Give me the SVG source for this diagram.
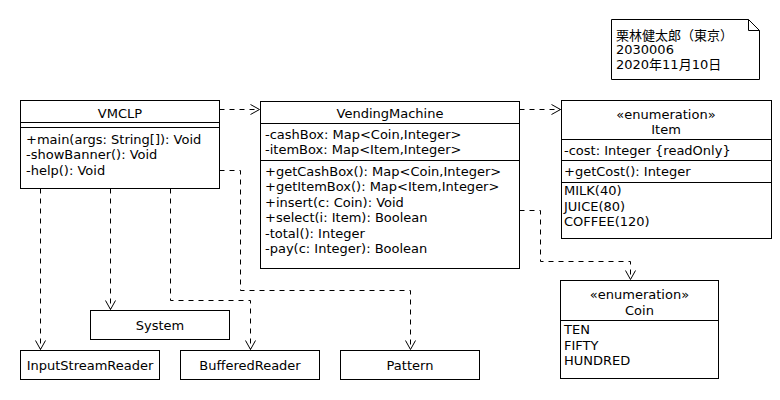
<svg xmlns="http://www.w3.org/2000/svg" width="780" height="400" viewBox="0 0 780 400">
<defs>
<marker id="open" viewBox="0 0 12 12" refX="10" refY="6" markerWidth="12" markerHeight="12" markerUnits="userSpaceOnUse" orient="auto">
<path d="M1,1 L10,6 L1,11" fill="none" stroke="#000" stroke-width="1"/>
</marker>
<style>
text{font-family:"DejaVu Sans","Noto Sans CJK JP",sans-serif;font-size:13px;fill:#000}
.c{text-anchor:middle}
.box{fill:#fff;stroke:#000;stroke-width:1}
.ln{stroke:#000;stroke-width:1}
.dep{fill:none;stroke:#000;stroke-width:1;stroke-dasharray:5,5;marker-end:url(#open)}
</style>
</defs>
<rect width="780" height="400" fill="#fff"/>
<g id="connectors">
<path class="dep" d="M219.5,109.5 H259.5"/>
<path class="dep" d="M519.5,109.5 H560.5"/>
<path class="dep" d="M519.5,210.5 H540.5 V261.5 H630.5 V279.5"/>
<path class="dep" d="M40.5,188.5 V349.5"/>
<path class="dep" d="M110.5,188.5 V309.5"/>
<path class="dep" d="M170.5,188.5 V300.5 H250.5 V349.5"/>
<path class="dep" d="M219.5,170.5 H240.5 V290.5 H410.5 V349.5"/>
</g>
<g id="VMCLP">
<rect class="box" x="20.5" y="100.5" width="199" height="88"/>
<line class="ln" x1="20.5" y1="122.5" x2="219.5" y2="122.5"/>
<line class="ln" x1="20.5" y1="127.5" x2="219.5" y2="127.5"/>
<text class="c" x="120" y="117.5">VMCLP</text>
<text x="26" y="143.5">+main(args: String[]): Void</text>
<text x="26" y="159">-showBanner(): Void</text>
<text x="26" y="174.5">-help(): Void</text>
</g>
<g id="VendingMachine">
<rect class="box" x="260.5" y="101.5" width="259" height="167"/>
<line class="ln" x1="260.5" y1="123.5" x2="519.5" y2="123.5"/>
<line class="ln" x1="260.5" y1="160.5" x2="519.5" y2="160.5"/>
<text class="c" x="390" y="117.5">VendingMachine</text>
<text x="265" y="138.5">-cashBox: Map&lt;Coin,Integer&gt;</text>
<text x="265" y="154">-itemBox: Map&lt;Item,Integer&gt;</text>
<text x="265" y="175.5">+getCashBox(): Map&lt;Coin,Integer&gt;</text>
<text x="265" y="191">+getItemBox(): Map&lt;Item,Integer&gt;</text>
<text x="265" y="206.5">+insert(c: Coin): Void</text>
<text x="265" y="222">+select(i: Item): Boolean</text>
<text x="265" y="237.5">-total(): Integer</text>
<text x="265" y="253">-pay(c: Integer): Boolean</text>
</g>
<g id="Item">
<rect class="box" x="561.5" y="100.5" width="210" height="138"/>
<line class="ln" x1="561.5" y1="139.5" x2="771.5" y2="139.5"/>
<line class="ln" x1="561.5" y1="160.5" x2="771.5" y2="160.5"/>
<line class="ln" x1="561.5" y1="182.5" x2="771.5" y2="182.5"/>
<text class="c" x="666" y="118.5">«enumeration»</text>
<text class="c" x="666" y="134">Item</text>
<text x="564" y="155">-cost: Integer {readOnly}</text>
<text x="564" y="175.5">+getCost(): Integer</text>
<text x="564" y="195">MILK(40)</text>
<text x="564" y="210.5">JUICE(80)</text>
<text x="564" y="226">COFFEE(120)</text>
</g>
<g id="Coin">
<rect class="box" x="560.5" y="280.5" width="158" height="98"/>
<line class="ln" x1="560.5" y1="320.5" x2="718.5" y2="320.5"/>
<text class="c" x="639.5" y="298.5">«enumeration»</text>
<text class="c" x="639.5" y="314.5">Coin</text>
<text x="564" y="333.5">TEN</text>
<text x="564" y="349.5">FIFTY</text>
<text x="564" y="364.5">HUNDRED</text>
</g>
<g id="System">
<rect class="box" x="90.5" y="310.5" width="139" height="29"/>
<text class="c" x="160" y="329.5">System</text>
</g>
<g id="InputStreamReader">
<rect class="box" x="20.5" y="350.5" width="139" height="29"/>
<text class="c" x="90" y="369.5">InputStreamReader</text>
</g>
<g id="BufferedReader">
<rect class="box" x="180.5" y="350.5" width="139" height="29"/>
<text class="c" x="250" y="369.5">BufferedReader</text>
</g>
<g id="Pattern">
<rect class="box" x="340.5" y="350.5" width="139" height="29"/>
<text class="c" x="410" y="369.5">Pattern</text>
</g>
<g id="note">
<path class="box" d="M611.5,19.5 H748.5 L759.5,30.5 V79.5 H611.5 Z"/>
<path class="ln" fill="none" d="M748.5,19.5 V30.5 H759.5"/>
<text x="616" y="39.5">栗林健太郎（東京）</text>
<text x="616" y="54">2030006</text>
<text x="616" y="68.5">2020年11月10日</text>
</g>
</svg>
